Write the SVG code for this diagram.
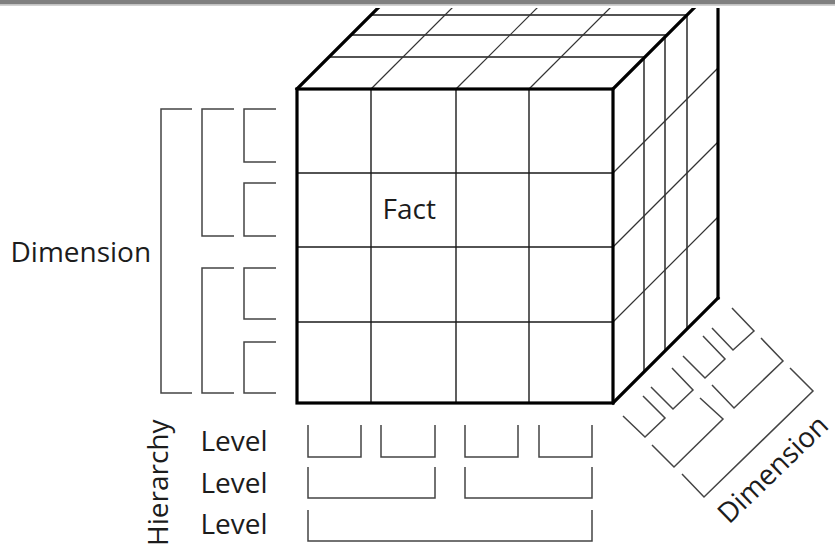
<svg xmlns="http://www.w3.org/2000/svg" width="835" height="545" viewBox="0 0 835 545">
<style>
  .thick { fill: none; stroke: #000; stroke-width: 3.2; stroke-linejoin: miter; stroke-linecap: square; }
  .grid { fill: none; stroke: #1a1a1a; stroke-width: 1.4; }
  .diag { fill: none; stroke: #333; stroke-width: 1.2; }
  .br { fill: none; stroke: #444; stroke-width: 1.5; stroke-linejoin: miter; }
  .lbl { font-family: "Open Sans", "Noto Sans", "DejaVu Sans", sans-serif; font-size: 28px; fill: #1c1c1c; }
</style>
<defs>
  <clipPath id="clipTop"><rect x="0" y="8" width="835" height="537"/></clipPath>
</defs>
<rect x="0" y="0" width="835" height="545" fill="#fff"/>
<rect x="0" y="0" width="835" height="4.5" fill="#808080"/>
<rect x="0" y="4.5" width="835" height="1.3" fill="#c8c8c8"/>

<g id="cube" clip-path="url(#clipTop)">
  <!-- top face -->
  <g class="grid">
    <line x1="329" y1="57" x2="645" y2="57"/>
    <line x1="351" y1="35" x2="667" y2="35"/>
    <line x1="371" y1="15" x2="687" y2="15"/>
  </g>
  <g class="diag">
    <line x1="371" y1="89" x2="476" y2="-16"/>
    <line x1="456" y1="89" x2="561" y2="-16"/>
    <line x1="529" y1="89" x2="634" y2="-16"/>
  </g>
  <!-- right face -->
  <g class="grid">
    <line x1="644" y1="58" x2="644" y2="372"/>
    <line x1="665" y1="37" x2="665" y2="351"/>
    <line x1="687" y1="15" x2="687" y2="329"/>
  </g>
  <g class="diag">
    <line x1="613" y1="173" x2="718" y2="68"/>
    <line x1="613" y1="247" x2="718" y2="142"/>
    <line x1="613" y1="322" x2="718" y2="217"/>
  </g>
  <!-- front face grid -->
  <g class="grid">
    <line x1="371" y1="89" x2="371" y2="403"/>
    <line x1="456" y1="89" x2="456" y2="403"/>
    <line x1="529" y1="89" x2="529" y2="403"/>
    <line x1="297" y1="173" x2="613" y2="173"/>
    <line x1="297" y1="247" x2="613" y2="247"/>
    <line x1="297" y1="322" x2="613" y2="322"/>
  </g>
  <!-- thick outline -->
  <rect class="thick" x="297" y="89" width="316" height="314"/>
  <line class="thick" x1="297" y1="89" x2="402" y2="-16"/>
  <line class="thick" x1="613" y1="89" x2="718" y2="-16"/>
  <line class="thick" x1="718" y1="-16" x2="718" y2="298"/>
  <line class="thick" x1="613" y1="403" x2="718" y2="298"/>
</g>

<g id="left-brackets">
  <polyline class="br" points="192,109 161,109 161,393 192,393"/>
  <polyline class="br" points="234,109 202,109 202,236 234,236"/>
  <polyline class="br" points="234,268 202,268 202,393 234,393"/>
  <polyline class="br" points="276,109 244,109 244,162 276,162"/>
  <polyline class="br" points="276,183 244,183 244,236 276,236"/>
  <polyline class="br" points="276,268 244,268 244,319 276,319"/>
  <polyline class="br" points="276,342 244,342 244,393 276,393"/>
</g>

<g id="bottom-brackets">
  <polyline class="br" points="308,425 308,457 361,457 361,425"/>
  <polyline class="br" points="381,425 381,457 435,457 435,425"/>
  <polyline class="br" points="465,425 465,457 518,457 518,425"/>
  <polyline class="br" points="539,425 539,457 592,457 592,425"/>
  <polyline class="br" points="308,467 308,498 435,498 435,467"/>
  <polyline class="br" points="465,467 465,498 592,498 592,467"/>
  <polyline class="br" points="308,510 308,541 592,541 592,510"/>
</g>

<g id="right-brackets">
  <polyline class="br" points="623,416 645,437 665,418 643,396"/>
  <polyline class="br" points="651,387 673,409 693,390 672,368"/>
  <polyline class="br" points="683,356 705,378 725,359 703,336"/>
  <polyline class="br" points="712,328 733,350 754,331 732,308"/>
  <polyline class="br" points="652,445 674,467 723,419 700,398"/>
  <polyline class="br" points="712,385 734,408 783,361 761,338"/>
  <polyline class="br" points="682,474 704,497 813,391 790,368"/>
</g>

<g id="labels">
  <text id="dim-left" class="lbl" x="10.5" y="262">Dimension</text>
  <text id="fact" class="lbl" x="382.5" y="219">Fact</text>
  <text class="lbl" x="200.5" y="451">Level</text>
  <text class="lbl" x="200.5" y="493">Level</text>
  <text class="lbl" x="200.5" y="534">Level</text>
  <text id="hierarchy" class="lbl" transform="translate(168,546) rotate(-90)">Hierarchy</text>
  <text id="dim-right" class="lbl" font-size="27" transform="translate(729,525) rotate(-44)">Dimension</text>
</g>
</svg>
